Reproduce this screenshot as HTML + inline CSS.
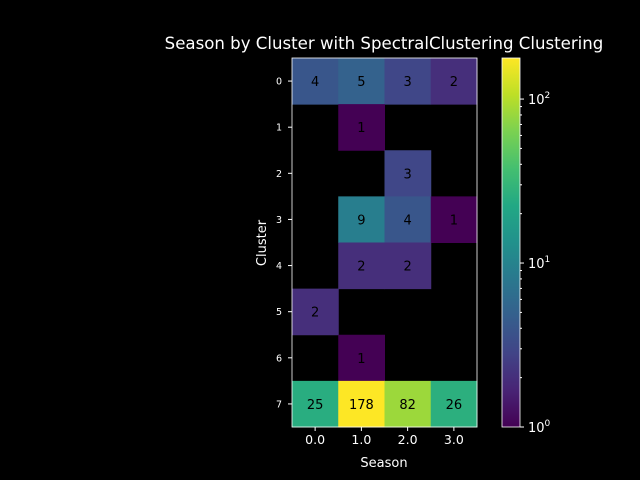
<!DOCTYPE html>
<html><head><meta charset="utf-8"><style>
body{margin:0;background:#000;}
svg{display:block;font-family:"DejaVu Sans","Liberation Sans",sans-serif;}
</style></head><body>
<svg id="chart" width="640" height="480" viewBox="0 0 640 480">
<rect width="640" height="480" fill="#000"/>
<text x="384" y="49" fill="#fff" font-size="16.6" text-anchor="middle">Season by Cluster with SpectralClustering Clustering</text>
<g id="cells"></g>
<g id="xaxis"></g>
<g id="yaxis"></g>
<g id="cbar"></g>
<text x="384" y="467" fill="#fff" font-size="13" text-anchor="middle">Season</text>
<text x="266" y="243" fill="#fff" font-size="13" text-anchor="middle" transform="rotate(-90 266 243)">Cluster</text>
</svg>
<script>
const seasons=["0.0","1.0","2.0","3.0"];
const clusters=["0","1","2","3","4","5","6","7"];
const values=[
[4,5,3,2],
[0,1,0,0],
[0,0,3,0],
[0,9,4,1],
[0,2,2,0],
[2,0,0,0],
[0,1,0,0],
[25,178,82,26]];
const vmin=1, vmax=178;
const cbTicks=[1,10,100];
const cbTickLabels=["0","1","2"];
const NS="http://www.w3.org/2000/svg";
const L=292,R=477,T=58,B=427;
const cw=(R-L)/seasons.length, ch=(B-T)/clusters.length;
const xs=i=>L+i*cw, ys=j=>T+j*ch;
const stops=["#440154","#482475","#414487","#355f8d","#2a788e","#21918c","#22a884","#44bf70","#7ad151","#bddf26","#fde725"];
function hex(h){return [1,3,5].map(k=>parseInt(h.substr(k,2),16));}
function viridis(t){t=Math.max(0,Math.min(1,t));const p=t*10,i=Math.min(9,Math.floor(p)),f=p-i;const a=hex(stops[i]),b=hex(stops[i+1]);return "rgb("+a.map((v,k)=>Math.round(v+(b[k]-v)*f)).join(",")+")";}
const norm=v=>Math.log(v/vmin)/Math.log(vmax/vmin);
function el(tag,attrs,parent){const e=document.createElementNS(NS,tag);for(const k in attrs)e.setAttribute(k,attrs[k]);parent.appendChild(e);return e;}
const gc=document.getElementById("cells");
values.forEach((row,j)=>row.forEach((v,i)=>{
 if(v<=0)return;
 const r=el("rect",{x:xs(i),y:ys(j),width:cw+0.5,height:ch+0.5,fill:viridis(norm(v))},gc);
 
 
 const t=el("text",{x:xs(i)+cw/2,y:ys(j)+ch/2+5,"text-anchor":"middle","font-size":"13",fill:"#000"},gc);
 t.textContent=v;
 
 
}));
const fr=el("rect",{x:L,y:T,width:R-L,height:B-T,fill:"none",stroke:"#fff","stroke-width":"0.8"},gc);


const gx=document.getElementById("xaxis");
seasons.forEach((s,i)=>{
 const x=xs(i)+cw/2;
 el("line",{x1:x,x2:x,y1:B,y2:B+4,stroke:"#fff"},gx);
 const t=el("text",{x:x,y:B+17,"text-anchor":"middle","font-size":"12.5",fill:"#fff"},gx);
 t.textContent=s;
 
 
});
const gy=document.getElementById("yaxis");
clusters.forEach((c,j)=>{
 const y=ys(j)+ch/2;
 el("line",{x1:L-4,x2:L,y1:y,y2:y,stroke:"#fff"},gy);
 const t=el("text",{x:L-10,y:y+3.5,"text-anchor":"end","font-size":"9.5",fill:"#fff"},gy);
 t.textContent=c;
 
 
});
const gb=document.getElementById("cbar");
const CL=502,CR=520;
const cy=v=>B-norm(v)*(B-T);
const defs=el("defs",{},gb);
const lg=el("linearGradient",{id:"vg",x1:"0",y1:"1",x2:"0",y2:"0"},defs);
stops.forEach((s,k)=>el("stop",{offset:k/10,"stop-color":s},lg));
const cb=el("rect",{x:CL,y:T,width:CR-CL,height:B-T,fill:"url(#vg)",stroke:"#fff","stroke-width":"0.8"},gb);


for(let d=1;d<=100;d*=10)for(let m=2;m<10;m++){const v=d*m;if(v>vmax)break;const y=cy(v);el("line",{x1:CR,x2:CR+2,y1:y,y2:y,stroke:"#fff"},gb);}
cbTicks.forEach((v,k)=>{
 const y=cy(v);
 el("line",{x1:CR,x2:CR+4,y1:y,y2:y,stroke:"#fff"},gb);
 const t=el("text",{x:CR+8,y:y+5,"font-size":"13",fill:"#fff"},gb);
 t.textContent="10";
 const sp=el("tspan",{dy:"-6","font-size":"9"},t);
 sp.textContent=cbTickLabels[k];
 
 
});
</script>
</body></html>
